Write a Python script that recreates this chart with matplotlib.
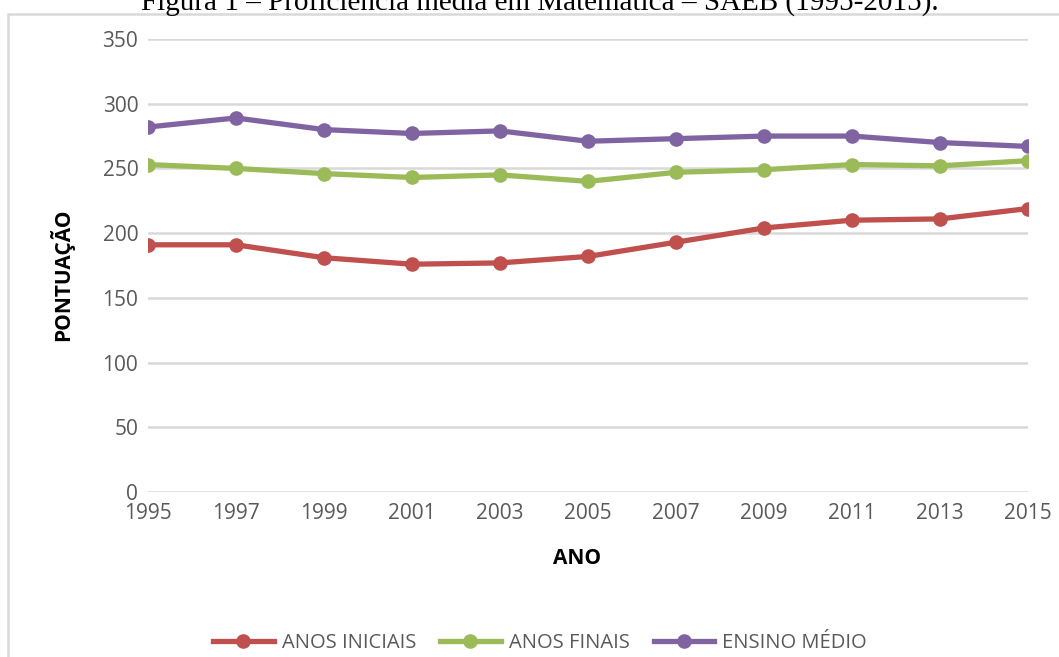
import matplotlib
matplotlib.use("Agg")
import matplotlib.pyplot as plt
from matplotlib.patches import Rectangle
from matplotlib.lines import Line2D

anos = [1995, 1997, 1999, 2001, 2003, 2005, 2007, 2009, 2011, 2013, 2015]
anos_iniciais = [191, 191, 181, 176, 177, 182, 193, 204, 210, 211, 219]
anos_finais = [253, 250, 246, 243, 245, 240, 247, 249, 253, 252, 256]
ensino_medio = [282, 289, 280, 277, 279, 271, 273, 275, 275, 270, 267]
series_names = ["ANOS INICIAIS", "ANOS FINAIS", "ENSINO MÉDIO"]
y_ticks = [0, 50, 100, 150, 200, 250, 300, 350]
title = "Figura 1 – Proficiência média em Matemática – SAEB (1995-2015)."

colors = ["#C0504D", "#9BBB59", "#8064A2"]
W, H = 1059, 657
fig = plt.figure(figsize=(W / 100, H / 100), dpi=100)
fig.patch.set_facecolor("white")

# outer chart frame
fig.patches.append(Rectangle((8 / W, -0.1), 1.2, 1.1 - 14 / H, transform=fig.transFigure,
                             fill=False, edgecolor="#D9D9D9", linewidth=1.8, zorder=0))

fig.text(540 / W, 1 - 10 / H, title, ha="center", va="baseline",
         fontsize=21, family="Liberation Serif", color="black")

ax = fig.add_axes([148 / W, 1 - 492 / H, (1028 - 148) / W, (492 - 39) / H])
for name, vals, c in zip(series_names, [anos_iniciais, anos_finais, ensino_medio], colors):
    ax.plot(anos, vals, color=c, linewidth=3.8, marker="o", markersize=9.5,
            label=name, solid_capstyle="round", zorder=3)

ax.set_xlim(anos[0], anos[-1])
ax.set_ylim(0, 350)
ax.set_yticks(y_ticks)
ax.set_xticks(anos)
ax.grid(axis="y", color="#D9D9D9", linewidth=1.8, zorder=0)
for s in ax.spines.values():
    s.set_visible(False)
ax.tick_params(axis="both", length=0, labelsize=15, colors="#595959")
ax.tick_params(axis="y", pad=7)
ax.tick_params(axis="x", pad=8)
for lab in ax.get_xticklabels() + ax.get_yticklabels():
    lab.set_family("Open Sans")

fig.text(577 / W, 1 - 558 / H, "ANO", ha="center", va="center",
         fontsize=15, fontweight="bold", family="Open Sans", color="black")
fig.text(62 / W, 1 - 275 / H, "PONTUAÇÃO", ha="center", va="center", rotation=90,
         fontsize=15, fontweight="bold", family="Open Sans", color="black")

handles = [Line2D([0], [0], color=c, linewidth=3.8, marker="o", markersize=9.5) for c in colors]
leg = fig.legend(handles, series_names, loc="center", bbox_to_anchor=(540 / W, 1 - 643 / H),
                 ncol=3, frameon=False, handlelength=3.0, handletextpad=0.4, columnspacing=1.2,
                 prop={"family": "Open Sans", "size": 14.5})
for t in leg.get_texts():
    t.set_color("#595959")

fig.savefig("out.png", dpi=100)
